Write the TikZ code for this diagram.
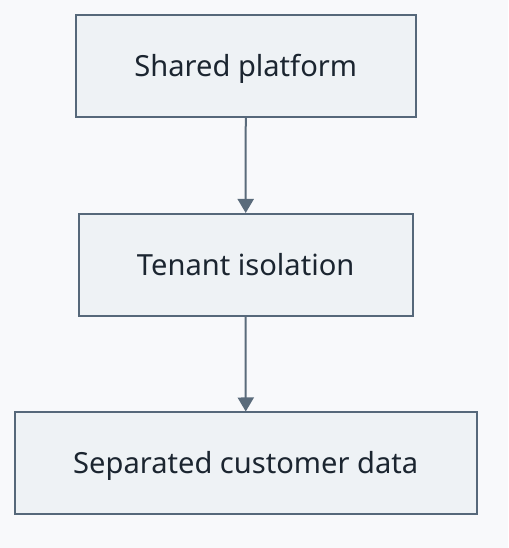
\documentclass[tikz,border=0pt]{standalone}
\usepackage{fontspec}
\setmainfont{Noto Sans}
\usetikzlibrary{arrows.meta}
\definecolor{bg}{HTML}{F8F9FB}
\definecolor{boxfill}{HTML}{EEF2F5}
\definecolor{boxline}{HTML}{56687A}
\definecolor{arrowc}{HTML}{5A6B7B}
\definecolor{txt}{HTML}{1B2530}
\begin{document}
\begin{tikzpicture}[x=1pt,y=1pt,
  stepbox/.style={draw=boxline,fill=boxfill,line width=2pt,minimum height=102pt,inner sep=0pt,text=txt,text height=21pt,text depth=0pt,font=\fontsize{29.1}{34}\selectfont},
  conn/.style={draw=arrowc,line width=2pt,-{Triangle[length=14pt,width=16pt]}}]
\fill[bg] (0,0) rectangle (508,548);
\useasboundingbox (0,0) rectangle (508,548);
\node[stepbox,minimum width=339.5pt] (a) at (245.75,482) {Shared platform};
\node[stepbox,minimum width=334pt] (b) at (245.7,283) {Tenant isolation};
\node[stepbox,minimum width=461.5pt] (c) at (245.75,84.5) {Separated customer data};
\draw[conn] (a.south) -- (b.north);
\draw[conn] (b.south) -- (c.north);
\end{tikzpicture}
\end{document}
